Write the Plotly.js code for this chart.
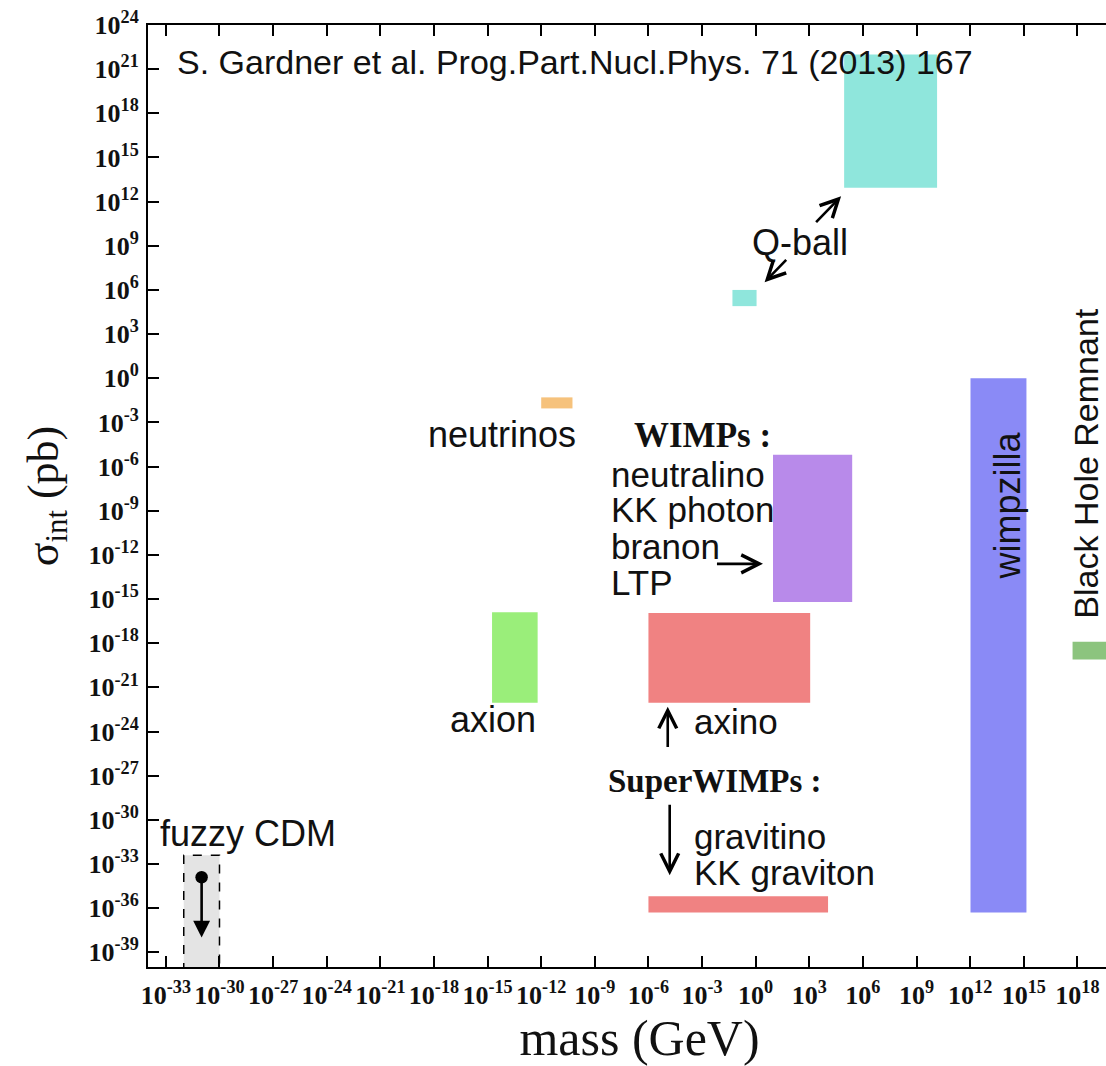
<!DOCTYPE html>
<html>
<head>
<meta charset="utf-8">
<script src="https://cdn.plot.ly/plotly-3.0.1.min.js"></script>
<style>
html, body { margin: 0; padding: 0; background: #ffffff; overflow: hidden; }
#chart { width: 1141px; height: 1066px; }
</style>
</head>
<body>
<div id="chart"></div>
<script>
// ---------------- data (powers of ten) ----------------
const regionNames = ['fuzzy CDM', 'neutrinos', 'axion', 'Q-ball (light)', 'Q-ball (heavy)',
                     'WIMPs', 'axino', 'gravitino / KK graviton', 'wimpzilla', 'Black Hole Remnant'];
const massLoExp  = [-32,   -12,   -14.75, -1.3,  4.95, 0.97, -6,   -6,    12.02, 17.73];
const massHiExp  = [-30,   -10.25, -12.2,  0.05, 10.15, 5.4,  3.05,  4.05, 15.15, 20.5];
const sigmaLoExp = [-41,   -2.05, -22.05,  4.9,  12.95, -15.2, -22.05, -36.3, -36.3, -19.1];
const sigmaHiExp = [-32.4, -1.3,  -15.9,   6.0,  22.0,  -5.2,  -15.95, -35.2, 0.0,  -17.9];
const regionColors = ['#e4e4e4', '#f6c27c', '#9aee7a', '#8fe6dc', '#8fe6dc',
                      '#b88aea', '#f08282', '#f08282', '#8a8af6', '#8cc47e'];

const xTickExp = [-33, -30, -27, -24, -21, -18, -15, -12, -9, -6, -3, 0, 3, 6, 9, 12, 15, 18, 21];
const yTickExp = [-39, -36, -33, -30, -27, -24, -21, -18, -15, -12, -9, -6, -3, 0, 3, 6, 9, 12, 15, 18, 21, 24];

// text labels
const labelText  = ['S. Gardner et al. Prog.Part.Nucl.Phys. 71 (2013) 167', 'fuzzy CDM', 'neutrinos', 'Q-ball',
                    'WIMPs :', 'neutralino', 'KK photon', 'branon', 'LTP', 'axion', 'axino',
                    'SuperWIMPs :', 'gravitino', 'KK graviton', 'wimpzilla', 'Black Hole Remnant'];
const labelXExp  = [-32.49, -33.45, -9.96, 2.46, -2.96, -8.22, -8.22, -8.22, -8.22, -14.68, -3.58, -2.27, -3.58, -3.58, 14.09, 18.46];
const labelYExp  = [21.5, -30.9, -3.85, 9.2, -3.9, -6.55, -8.95, -11.4, -13.85, -23.2, -23.3, -27.35, -31.1, -33.6, -8.68, -5.83];
const labelAlign = ['left', 'left', 'right', 'center', 'center', 'left', 'left', 'left', 'left', 'center', 'left', 'center', 'left', 'left', 'center', 'center'];
const labelAngle = [0, 0, 0, 0, 0, 0, 0, 0, 0, 0, 0, 0, 0, 0, -90, -90];
const labelBold  = [false, false, false, false, true, false, false, false, false, false, false, true, false, false, false, false];
const labelSize  = [34, 36, 36, 36, 35, 35, 35, 35, 35, 36, 35, 33, 35, 35, 36, 34];

// arrows: tail -> head (powers of ten)
const arrowTailX = [-31,   3.30, 1.79, -2.25,  -4.92,  -4.81];
const arrowTailY = [-33.8, 10.51, 8.14, -12.61, -25.15, -28.88];
const arrowHeadX = [-31,   4.78, 0.50,  0.41,  -4.92,  -4.81];
const arrowHeadY = [-38.0, 12.36, 6.53, -12.61, -22.31, -33.76];

// highlight ellipse around "WIMPs :" (powers of ten)
const ellipseX = [-9.62, 3.13];
const ellipseY = [-7.39, -0.81];

// ---------------- build ----------------
const traces = regionNames.map((name, i) => {
  const x0 = Math.pow(10, massLoExp[i]), x1 = Math.pow(10, massHiExp[i]);
  const y0 = Math.pow(10, sigmaLoExp[i]), y1 = Math.pow(10, sigmaHiExp[i]);
  const isFuzzy = i === 0;
  return {
    type: 'scatter', mode: 'lines', name: name,
    x: [x0, x1, x1, x0, x0],
    y: [y0, y0, y1, y1, y0],
    fill: 'toself', fillcolor: regionColors[i],
    line: isFuzzy ? {color: '#000000', width: 1.5, dash: 'dash'} : {color: regionColors[i], width: 0},
    hoverinfo: 'name', showlegend: false
  };
});

const sup = e => '10<sup>' + (e < 0 ? '-' + Math.abs(e) : e) + '</sup>';

const annotations = [];
labelText.forEach((t, i) => {
  annotations.push({
    xref: 'x', yref: 'y', x: labelXExp[i], y: labelYExp[i],
    text: labelBold[i] ? '<b>' + t + '</b>' : t,
    showarrow: false, xanchor: labelAlign[i], yanchor: 'middle', textangle: labelAngle[i],
    font: {family: labelBold[i] ? 'Liberation Serif, Times New Roman, serif' : 'Liberation Sans, Arial, sans-serif',
           size: labelSize[i], color: '#111111'}
  });
});
arrowTailX.forEach((tx, i) => {
  const fuzzy = i === 0;
  annotations.push({
    xref: 'x', yref: 'y', axref: 'x', ayref: 'y',
    x: arrowHeadX[i], y: arrowHeadY[i], ax: tx, ay: arrowTailY[i],
    text: '', showarrow: true,
    arrowhead: fuzzy ? 2 : 5, arrowsize: fuzzy ? 1.3 : 1.35, arrowwidth: 2.6, arrowcolor: '#000000',
    arrowside: fuzzy ? 'end+start' : 'end', startarrowhead: 6, startarrowsize: 1.2,
    standoff: 0, startstandoff: 0
  });
});

const tickFont = {family: 'Liberation Serif, Times New Roman, serif', size: 26, color: '#111111', weight: 'bold'};

const layout = {
  width: 1141, height: 1066,
  margin: {l: 148, r: 10, t: 25, b: 99},
  paper_bgcolor: '#ffffff', plot_bgcolor: '#ffffff',
  showlegend: false,
  xaxis: {
    type: 'log', range: [-34, 21],
    tickmode: 'array', tickvals: xTickExp.map(e => Math.pow(10, e)), ticktext: xTickExp.map(sup),
    ticks: 'inside', ticklen: 11, tickwidth: 1.6, tickcolor: '#000000',
    showline: true, linecolor: '#000000', linewidth: 2, mirror: 'ticks',
    showgrid: false, zeroline: false, ticklabelstandoff: 4,
    tickfont: tickFont,
    title: {text: 'mass (GeV)', font: {family: 'Liberation Serif, Times New Roman, serif', size: 50, color: '#111111'}, standoff: 10}
  },
  yaxis: {
    type: 'log', range: [-40, 24],
    tickmode: 'array', tickvals: yTickExp.map(e => Math.pow(10, e)), ticktext: yTickExp.map(sup),
    ticks: 'inside', ticklen: 11, tickwidth: 1.6, tickcolor: '#000000',
    showline: true, linecolor: '#000000', linewidth: 2, mirror: 'ticks',
    showgrid: false, zeroline: false, ticklabelstandoff: 2,
    tickfont: tickFont,
    title: {text: 'σ<sub>int</sub> (pb)', font: {family: 'Liberation Serif, Times New Roman, serif', size: 44, color: '#111111'}, standoff: 16}
  },
  shapes: [{
    type: 'circle', xref: 'x', yref: 'y',
    x0: ellipseX[0], x1: ellipseX[1], y0: ellipseY[0], y1: ellipseY[1],
    line: {color: '#ee1010', width: 5}, fillcolor: 'rgba(0,0,0,0)'
  }],
  annotations: annotations
};

Plotly.newPlot('chart', traces, layout, {displayModeBar: false, responsive: false});
</script>
</body>
</html>
